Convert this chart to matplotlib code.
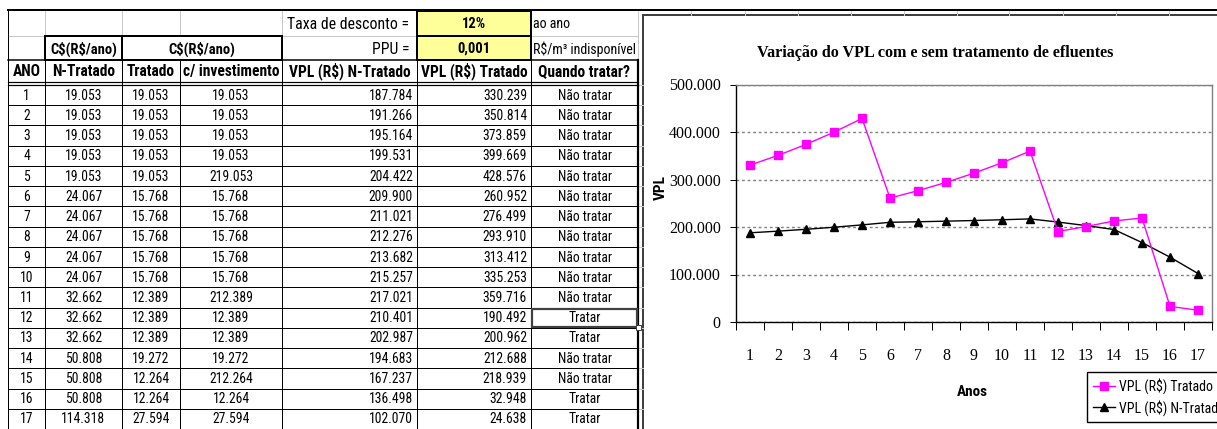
import matplotlib
matplotlib.use("Agg")
import matplotlib.pyplot as plt
from matplotlib import font_manager as fm
from matplotlib.patches import Rectangle
from matplotlib.ticker import FixedLocator, FuncFormatter, NullFormatter

# ---------------- data ----------------
anos = [1, 2, 3, 4, 5, 6, 7, 8, 9, 10, 11, 12, 13, 14, 15, 16, 17]
c_n_tratado = [19053, 19053, 19053, 19053, 19053, 24067, 24067, 24067, 24067, 24067,
               32662, 32662, 32662, 50808, 50808, 50808, 114318]
c_tratado = [19053, 19053, 19053, 19053, 19053, 15768, 15768, 15768, 15768, 15768,
             12389, 12389, 12389, 19272, 12264, 12264, 27594]
c_investimento = [19053, 19053, 19053, 19053, 219053, 15768, 15768, 15768, 15768, 15768,
                  212389, 12389, 12389, 19272, 212264, 12264, 27594]
vpl_n_tratado = [187784, 191266, 195164, 199531, 204422, 209900, 211021, 212276, 213682,
                 215257, 217021, 210401, 202987, 194683, 167237, 136498, 102070]
vpl_tratado = [330239, 350814, 373859, 399669, 428576, 260952, 276499, 293910, 313412,
               335253, 359716, 190492, 200962, 212688, 218939, 32948, 24638]
quando = ["Não tratar", "Não tratar", "Não tratar", "Não tratar", "Não tratar",
          "Não tratar", "Não tratar", "Não tratar", "Não tratar", "Não tratar",
          "Não tratar", "Tratar", "Tratar", "Não tratar", "Não tratar", "Tratar", "Tratar"]
col_headers = ["ANO", "N-Tratado", "Tratado", "c/ investimento",
               "VPL (R$) N-Tratado", "VPL (R$) Tratado", "Quando tratar?"]
group_header = "C$(R$/ano)"
taxa_label, taxa_value, taxa_unit = "Taxa de desconto =", "12%", "ao ano"
ppu_label, ppu_value, ppu_unit = "PPU =", "0,001", "R$/m³ indisponível"
chart_title = "Variação do VPL com e sem tratamento de efluentes"
y_ticks = [0, 100000, 200000, 300000, 400000, 500000]
label_tratado = "VPL (R$) Tratado"
label_n_tratado = "VPL (R$) N-Tratado"


def br(v):
    return f"{int(v):,}".replace(",", ".")


# ---------------- fonts ----------------
ttf = fm.fontManager.ttflist
avail = {f.name for f in ttf}
narrow_family, narrow_stretch, narrow_found = ["Liberation Sans"], "normal", False
for cand in ["Liberation Sans Narrow", "Arial Narrow", "Roboto Condensed", "Noto Sans Condensed",
             "Open Sans Condensed", "DejaVu Sans Condensed", "PT Sans Narrow", "Archivo Narrow",
             "Fira Sans Condensed", "IBM Plex Sans Condensed", "Ubuntu Condensed"]:
    if cand in avail:
        narrow_family, narrow_found = [cand], True
        break
if not narrow_found:
    for fam in ["Liberation Sans", "Noto Sans", "Roboto", "Open Sans", "DejaVu Sans"]:
        if any(f.name == fam and f.stretch in ("condensed", "semi-condensed", "extra-condensed")
               for f in ttf):
            narrow_family, narrow_stretch, narrow_found = [fam], "condensed", True
            break
NARROW = narrow_family + ["DejaVu Sans"]
SERIF = ["Liberation Serif", "DejaVu Serif"]
k = 1.0 if narrow_found else 0.82  # shrink if no narrow face


def T(a, x, y, s, size, **kw):
    return a.text(x, y, s, family=NARROW, fontstretch=narrow_stretch, fontsize=size * k,
                  parse_math=False, **kw)


# ---------------- figure ----------------
W, H = 1217, 429
fig = plt.figure(figsize=(W / 100, H / 100), dpi=100)
fig.patch.set_facecolor("white")

tab = fig.add_axes([0, 0, 1, 1], zorder=0)
tab.set_xlim(0, W)
tab.set_ylim(H, 0)
tab.axis("off")

px = 0.72  # 1 px in points
grid_c = "#c8c8c8"

cols = [8, 45, 122, 180, 282, 417, 531, 638]
rA, rB, rC, rD = 11, 36, 60, 85
row_h = (H - rD) / 17.0

# light spreadsheet gridlines
for x in [45, 122, 180, 282]:
    tab.plot([x, x], [rA, rB], color=grid_c, lw=px)
tab.plot([8, 45], [rB, rB], color=grid_c, lw=px)
tab.plot([282, 417], [rB, rB], color=grid_c, lw=px)
tab.plot([531, 638], [rB, rB], color=grid_c, lw=px)
tab.plot([638, 638], [rA, rC], color=grid_c, lw=px)
for x in [691, 745, 798, 851, 904, 957, 1009, 1063, 1116, 1169]:
    tab.plot([x, x], [10, 15], color=grid_c, lw=px)
for i in range(18):
    y = rD + i * row_h
    tab.plot([638, 643], [y, y], color=grid_c, lw=px)

# top border and left edge
tab.plot([8, W], [10, 10], color="black", lw=2 * px)
tab.plot([8, 8], [10, H], color="black", lw=px)

# yellow input cells
tab.add_patch(Rectangle((417, rA), 531 - 417, rC - rA, facecolor="#ffff99",
                        edgecolor="black", lw=2 * px, zorder=2))
tab.plot([417, 531], [rB, rB], color="black", lw=2 * px, zorder=3)

# group header boxes
tab.add_patch(Rectangle((45, rB), 122 - 45, rC - rB, fill=False, edgecolor="black", lw=2 * px, zorder=3))
tab.add_patch(Rectangle((122, rB), 282 - 122, rC - rB, fill=False, edgecolor="black", lw=2 * px, zorder=3))

# header row and double line
tab.plot([8, 638], [rC, rC], color="black", lw=1.5 * px)
tab.plot([8, 638], [rD - 3.5, rD - 3.5], color="black", lw=1.2 * px)
tab.plot([8, 638], [rD, rD], color="black", lw=1.2 * px)
for x in cols[1:-1]:
    tab.plot([x, x], [rC, H], color="black", lw=px)
tab.plot([638, 638], [rC, H], color="black", lw=2.2 * px)

# data row lines
for i in range(1, 18):
    y = rD + i * row_h
    tab.plot([8, 638], [y, y], color="black", lw=px)

# top texts
yA, yB, yC = (rA + rB) / 2 + 1, (rB + rC) / 2 + 1, (rC + rD) / 2 - 1
T(tab, 409, yA, taxa_label, 11.3, ha="right", va="center")
T(tab, 409, yB, ppu_label, 11.3, ha="right", va="center")
T(tab, 474, yA, taxa_value, 10.5, ha="center", va="center", weight="bold", zorder=4)
T(tab, 474, yB, ppu_value, 10.5, ha="center", va="center", weight="bold", zorder=4)
T(tab, 533, yA, taxa_unit, 10, ha="left", va="center")
T(tab, 533, yB, ppu_unit, 10, ha="left", va="center")
T(tab, (45 + 122) / 2, yB, group_header, 10.5, ha="center", va="center", weight="bold")
T(tab, (122 + 282) / 2, yB, group_header, 10.5, ha="center", va="center", weight="bold")

# column headers
for j, h in enumerate(col_headers):
    T(tab, (cols[j] + cols[j + 1]) / 2, yC, h, 11.2, ha="center", va="center", weight="bold")

# data cells
dfs = 9.8
for i in range(17):
    y = rD + (i + 0.5) * row_h + 0.5
    T(tab, (cols[0] + cols[1]) / 2, y, str(anos[i]), dfs, ha="center", va="center")
    T(tab, (cols[1] + cols[2]) / 2, y, br(c_n_tratado[i]), dfs, ha="center", va="center")
    T(tab, (cols[2] + cols[3]) / 2, y, br(c_tratado[i]), dfs, ha="center", va="center")
    T(tab, (cols[3] + cols[4]) / 2, y, br(c_investimento[i]), dfs, ha="center", va="center")
    T(tab, cols[5] - 4, y, br(vpl_n_tratado[i]), dfs, ha="right", va="center")
    T(tab, cols[6] - 4, y, br(vpl_tratado[i]), dfs, ha="right", va="center")
    T(tab, (cols[6] + cols[7]) / 2, y, quando[i], dfs, ha="center", va="center")

# selected cell (row 12, "Quando tratar?")
sel_top = rD + 11 * row_h
tab.add_patch(Rectangle((532, sel_top + 1), 638 - 533, row_h - 2, fill=False,
                        edgecolor="#404040", lw=2.2 * px, zorder=5))
tab.add_patch(Rectangle((636, sel_top + row_h - 3), 5, 5, facecolor="white",
                        edgecolor="#404040", lw=px, zorder=6))

# chart area border
tab.add_patch(Rectangle((642.5, 15), 700, 500, facecolor="white",
                        edgecolor="#404040", lw=2 * px, zorder=1))

# ---------------- chart ----------------
left, right, top, bottom = 736, 1212, 84.5, 322
ax = fig.add_axes([left / W, 1 - bottom / H, (right - left) / W, (bottom - top) / H], zorder=2)
ax.set_facecolor("white")
ax.plot(anos, vpl_tratado, color="#ff00ff", lw=1, marker="s", markersize=5.5,
        markerfacecolor="#ff00ff", markeredgecolor="#ff00ff", label=label_tratado, zorder=4)
ax.plot(anos, vpl_n_tratado, color="black", lw=1, marker="^", markersize=6,
        markerfacecolor="black", markeredgecolor="black", label=label_n_tratado, zorder=3)

ax.set_xlim(0.5, 17.5)
ax.set_ylim(0, 500000)
ax.xaxis.set_major_locator(FixedLocator(anos))
ax.xaxis.set_minor_locator(FixedLocator([a - 0.5 for a in anos] + [anos[-1] + 0.5]))
ax.xaxis.set_minor_formatter(NullFormatter())
ax.tick_params(axis="x", which="major", length=0, pad=19)
ax.tick_params(axis="x", which="minor", length=6, width=px, direction="out", color="black")
ax.yaxis.set_major_locator(FixedLocator(y_ticks))
ax.yaxis.set_major_formatter(FuncFormatter(lambda v, p: br(v)))
ax.tick_params(axis="y", length=4, width=px, direction="out", pad=7)
for lab in ax.get_xticklabels() + ax.get_yticklabels():
    lab.set_family(SERIF)
    lab.set_fontsize(11.5)
ax.grid(axis="y", linestyle=(0, (2, 2)), color="#808080", lw=1)
ax.set_axisbelow(True)
for s in ["top", "right"]:
    ax.spines[s].set_color("#808080")
    ax.spines[s].set_linewidth(1)
for s in ["left", "bottom"]:
    ax.spines[s].set_color("black")
    ax.spines[s].set_linewidth(1)

fig.text(935 / W, 1 - 53 / H, chart_title, ha="center", va="center",
         family=SERIF, weight="bold", fontsize=11.6)
T(fig, 661 / W, 1 - 187 / H, "VPL", 11, ha="center", va="center", rotation=90, weight="bold")
T(fig, 972 / W, 1 - 392 / H, "Anos", 11, ha="center", va="center", weight="bold")

leg = ax.legend(loc="upper left", bbox_to_anchor=(1087 / W, 1 - 372 / H),
                bbox_transform=fig.transFigure, borderaxespad=0, frameon=True,
                fancybox=False, framealpha=1, edgecolor="black",
                prop=fm.FontProperties(family=NARROW, stretch=narrow_stretch, size=10 * k),
                handlelength=1.6, handletextpad=0.25, borderpad=0.45, labelspacing=0.4)
leg.get_frame().set_linewidth(1)

fig.savefig("out.png", dpi=100)
